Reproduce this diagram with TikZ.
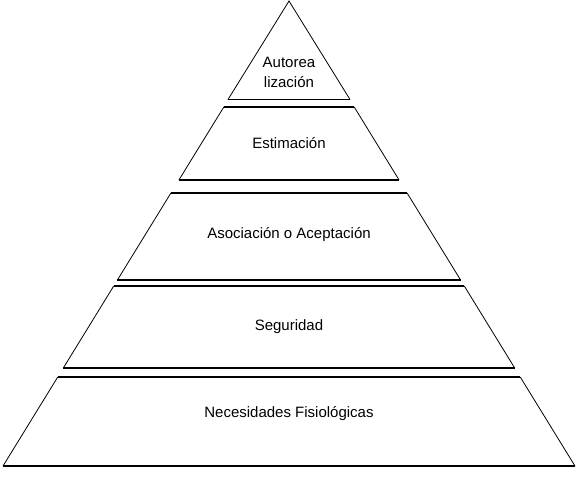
\documentclass[tikz,border=0pt]{standalone}
\usepackage{fontspec}
\setmainfont{Liberation Sans}
\usetikzlibrary{positioning}

\begin{document}
\begin{tikzpicture}[x=1pt, y=-1pt,
  side/.style={line width=0.8pt},
  base/.style={line width=1.5pt},
  level/.style={font=\fontsize{15}{20}\selectfont, align=center, inner sep=0pt}]
  \useasboundingbox (0,0) rectangle (581,480);

  % Top triangle
  \coordinate (apex) at (289,1);
  \coordinate (topL) at (228,99.5);
  \coordinate (topR) at (350,99.5);
  \draw[side] (topL) -- (apex) -- (topR);
  \draw[base] (topL) -- (topR);

  % Lower levels (all cut from the same big triangle)
  \foreach \t/\b [count=\i] in {107/180, 193/280, 286/368, 377/466} {
    \coordinate (tl\i) at ({289-0.615*(\t-1)},\t);
    \coordinate (tr\i) at ({289+0.615*(\t-1)},\t);
    \coordinate (bl\i) at ({289-0.615*(\b-1)},\b);
    \coordinate (br\i) at ({289+0.615*(\b-1)},\b);
    \draw[side] (tl\i) -- (bl\i);
    \draw[side] (tr\i) -- (br\i);
    \draw[base] (tl\i) -- (tr\i);
    \draw[base] (bl\i) -- (br\i);
  }

  % Labels
  \node[level] (autorrealizacion) at (289,72) {Autorea\\lización};
  \node[level] (estimacion) at (289,143) {Estimación};
  \node[level] (asociacion) at (289,235) {Asociación o Aceptación};
  \node[level] (seguridad) at (289,327) {Seguridad};
  \node[level] (fisiologicas) at (289,414) {Necesidades Fisiológicas};
\end{tikzpicture}
\end{document}
